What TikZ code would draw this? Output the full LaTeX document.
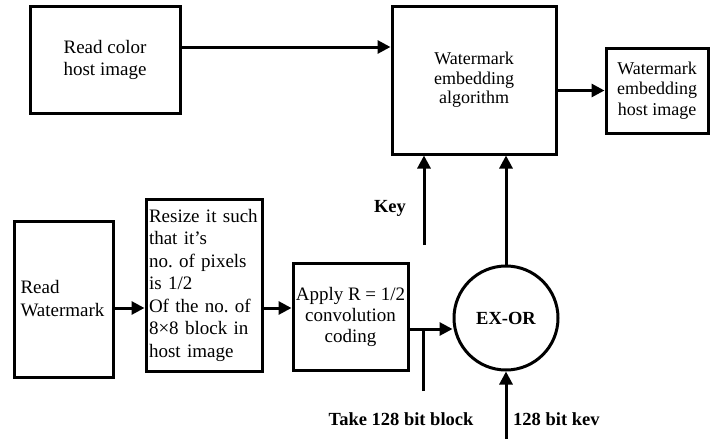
\documentclass[tikz,border=0pt]{standalone}
\usepackage{fontspec}
\setmainfont{Liberation Serif}
\frenchspacing
\usetikzlibrary{positioning, arrows.meta, calc}
\tikzset{
  blk/.style  = {draw, rectangle, line width=3pt, inner sep=4pt, align=center,
                 font=\fontsize{19}{22}\selectfont},
  ar/.style   = {-{Triangle[length=13pt,width=13pt]}, line width=3pt},
  ln/.style   = {line width=3pt},
  lbl/.style  = {inner sep=1pt, font=\fontsize{18.5}{22}\selectfont\bfseries},
}

\begin{document}
\begin{tikzpicture}[x=1pt, y=-1pt]
  \useasboundingbox (0,0) rectangle (711,439);
  \node[blk, minimum width=150, minimum height=107] (host) at (105,59.5)
    {Read color\\host image};
  \node[blk, minimum width=164, minimum height=148,
        font=\fontsize{18}{19.5}\selectfont] (embed) at (474,80)
    {Watermark\\embedding\\algorithm};
  \node[blk, minimum width=102, minimum height=85, inner xsep=1pt,
        font=\fontsize{18}{20.5}\selectfont] (out) at (657,90.5)
    {Watermark\\embedding\\host image};
  \node[blk, text width=86, inner xsep=6.5pt, minimum height=156, align=left,
        font=\fontsize{19}{23}\selectfont] (wm) at (63.5,299)
    {Read\\Watermark};
  \node[blk, text width=110, inner xsep=3pt, minimum height=172, align=left,
        font=\fontsize{19}{22.5}\selectfont] (resize) at (204,285)
    {Resize it such\\that it's\\no. of pixels\\is 1/2\\Of the no. of\\8×8 block in\\host image};
  \node[blk, minimum width=115, minimum height=107, inner xsep=1pt,
        font=\fontsize{19}{21}\selectfont] (conv) at (350.5,316.5)
    {Apply R = 1/2\\convolution\\coding};
  \node[blk, circle, minimum size=104, inner sep=0pt,
        font=\fontsize{18.5}{22}\selectfont\bfseries] (xor) at (506,318) {EX-OR};

  \node[lbl] (key) at (390,208) {Key};
  \node[lbl] (take) at (401,419) {Take 128 bit block};
  \node[lbl, anchor=west] (kev) at (512,419) {128 bit kev};

  \coordinate (hin) at ([yshift=12.5pt]host.east);
  \coordinate (wr) at ([yshift=-9pt]wm.east);
  \coordinate (cx) at ([yshift=-12.5pt]conv.east);
  \coordinate (tapend) at (423,391);
  \coordinate (keyin) at (424,245);
  \coordinate (kin) at (506,439);

  \draw[ar] (hin) -- (hin -| embed.west);
  \draw[ar] (embed.east |- out.west) -- (out.west);
  \draw[ar] (wr) -- (wr -| resize.west);
  \draw[ar] (wr -| resize.east) -- (wr -| conv.west);
  \draw[ar] (cx) -- (xor.west |- cx);
  \draw[ln] (tapend) -- (tapend |- cx);
  \draw[ar] (keyin) -- (keyin |- embed.south);
  \draw[ar] (xor.north) -- (xor.north |- embed.south);
  \draw[ar] (kin) -- (xor.south);
\end{tikzpicture}
\end{document}
